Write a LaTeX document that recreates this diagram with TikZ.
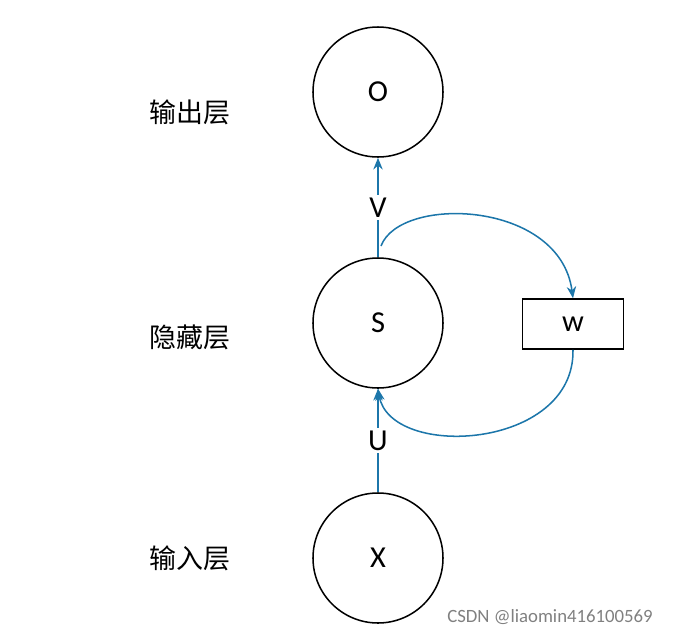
\documentclass[tikz,border=0pt]{standalone}
\usepackage{fontspec}
\setmainfont{Carlito}
\newfontfamily\cjk{Noto Sans CJK SC}
\usetikzlibrary{arrows.meta}
\definecolor{lblue}{RGB}{28,118,170}
\begin{document}
\begin{tikzpicture}[x=0.03cm,y=-0.03cm,
  neuron/.style={draw,circle,line width=1.3pt,minimum size=3.9cm,inner sep=0pt,font=\fontsize{26}{30}\selectfont},
  wbox/.style={draw,line width=1.3pt,minimum width=3.03cm,minimum height=1.5cm,font=\fontsize{26}{30}\selectfont},
  lay/.style={font=\cjk\fontsize{23}{28}\selectfont},
  conn/.style={lblue,line width=1.3pt,-{Stealth[length=10pt,width=8pt]}},
  lab/.style={font=\fontsize{26}{30}\selectfont,fill=white,text=black,inner sep=2pt}]
\useasboundingbox (0,0) rectangle (688,634);
\node[neuron] (o) at (378,92) {O};
\node[neuron] (s) at (378,323) {S};
\node[neuron] (x) at (378,558) {X};
\node[wbox] (w) at (573,324) {w};
\node[lay] (lo) at (190,112) {输出层};
\node[lay] (ls) at (190,337) {隐藏层};
\node[lay] (li) at (190,558) {输入层};
\draw[conn] (s.north) -- node[lab] {V} (o.south);
\draw[conn] (x.north) -- node[lab] {U} (s.south);
\coordinate (c1) at (381,246);
\draw[conn] (c1) .. controls (400,195) and (560,200) .. (w.north);
\draw[conn] (w.south) .. controls (575,450) and (390,460) .. (s.south);
\node[font=\fontsize{16}{19}\selectfont,text=gray] (wm) at (550,617) {CSDN @liaomin416100569};
\end{tikzpicture}
\end{document}
